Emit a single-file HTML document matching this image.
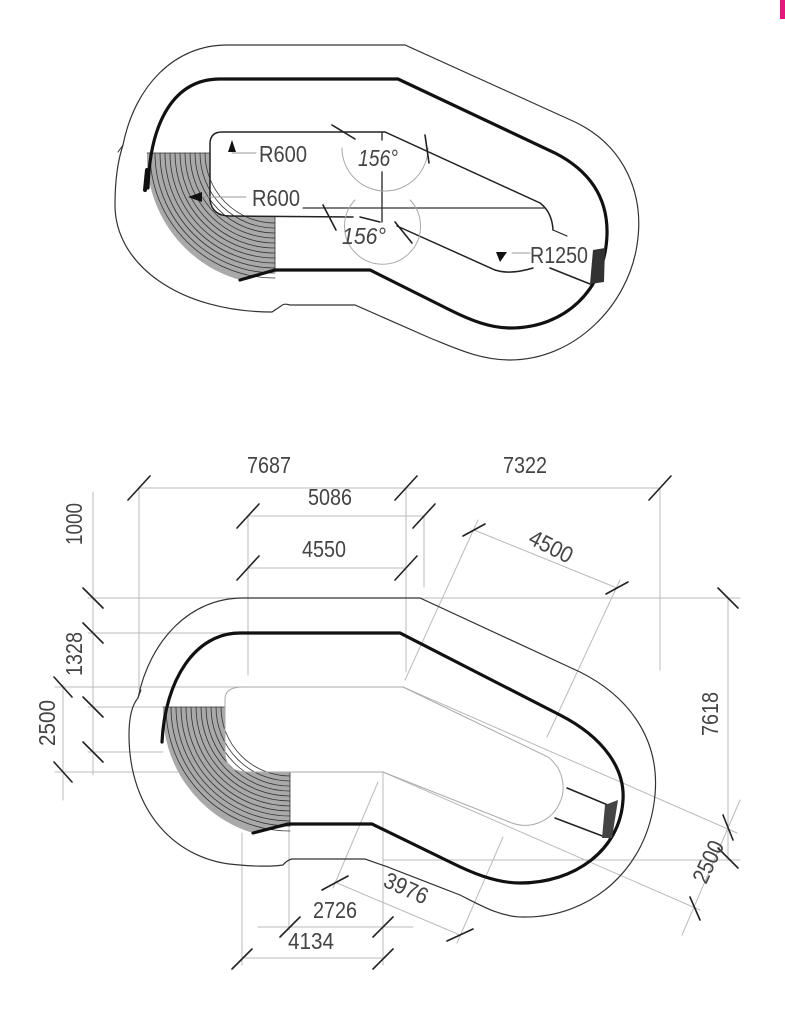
<!DOCTYPE html>
<html><head><meta charset="utf-8"><style>
html,body{margin:0;padding:0;background:#fff;width:785px;height:1023px;overflow:hidden}
svg{display:block}
text{font-family:"Liberation Sans Narrow","Liberation Sans",sans-serif;fill:#444;font-size:23px}
</style></head><body>
<svg width="785" height="1023" viewBox="0 0 785 1023" xmlns="http://www.w3.org/2000/svg">
<rect x="780" y="0" width="5" height="19" fill="#e6177a"/>

<!-- ============ TOP FIGURE ============ -->
<g fill="none" stroke-linecap="round">
<g stroke="#333" stroke-width="0.8">
<path d="M147,153 L210,153 L210,205 Q212,215 227,216 L275,216 L275,270 L240,280 A128,128 0 0 1 147,153 Z" fill="#a9a9a9" stroke="none"/>
<path d="M150,153 A125,125 0 0 0 275,278"/>
<path d="M155,153 A120,120 0 0 0 275,273"/>
<path d="M160,153 A115,115 0 0 0 275,268"/>
<path d="M165,153 A110,110 0 0 0 275,263"/>
<path d="M170,153 A105,105 0 0 0 275,258"/>
<path d="M175,153 A100,100 0 0 0 275,253"/>
<path d="M180,153 A95,95 0 0 0 275,248"/>
<path d="M185,153 A90,90 0 0 0 275,243"/>
<path d="M190,153 A85,85 0 0 0 275,238"/>
<path d="M195,153 A80,80 0 0 0 275,233"/>
<path d="M200,153 A75,75 0 0 0 275,228"/>
<path d="M205,153 A70,70 0 0 0 275,223"/>
<path d="M147,153 L210,153"/>
<path d="M275,216 L275,272"/>
</g>
<path d="M227,45 L405,45 L575,122 C625,146 645,195 637,245 C628,305 575,360 510,360 C480,360 455,348 430,338 L355,305 L290,305 Q284,303 281,306 L272,312 C180,312 115,265 115,205 C115,180 118,160 123,145 C135,85 175,45 227,45 Z" stroke="#333" stroke-width="1.2"/>
<path d="M123,145 L118,152" stroke="#333" stroke-width="1"/>
<path d="M148,188 C150,120 175,79 220,79 L398,79 L555,153 C592,172 608,200 607,235 C605,290 565,328 510,328 C490,328 470,320 450,310 L370,270 L275,270 L240,280" stroke="#111" stroke-width="3.2"/>
<path d="M147,170 L145,190" stroke="#111" stroke-width="4"/>
<path d="M210,200 L210,144 Q210,132 222,132 L385,132 L540,203 Q552,212 553,230" stroke="#222" stroke-width="1.5"/>
<path d="M210,200 Q212,216 230,216 L353,217" stroke="#222" stroke-width="1.5"/>
<path d="M360,217 L380,222" stroke="#222" stroke-width="1.5"/>
<path d="M397,226 L495,270 Q510,275 533,268" stroke="#222" stroke-width="1.5"/>
<path d="M553,230 L567,236" stroke="#222" stroke-width="1.2"/>
<path d="M550,268 L590,284" stroke="#222" stroke-width="1.5"/>
<path d="M593,250 L605,248 L604,282 L590,284 Z" fill="#333" stroke="none"/>
<path d="M303,208 L545,208" stroke="#333" stroke-width="1.2"/>
<path d="M382,132 L382,140 M382,172 L382,222" stroke="#333" stroke-width="1.4"/>
<path d="M342,148 A43,43 0 0 0 428,148" stroke="#aaa" stroke-width="1"/>
<path d="M355,200 A38,38 0 1 0 410,200" stroke="#aaa" stroke-width="1"/>
<g stroke="#222" stroke-width="1.6">
<path d="M332,125 L355,139"/><path d="M425,135 L429,163"/>
<path d="M323,205 L336,230"/><path d="M395,222 L412,243"/>
</g>
<path d="M232,153 L256,153" stroke="#999"/>
<path d="M202,197 L246,197" stroke="#999"/>
<path d="M512,253 L530,253" stroke="#999"/>
</g>
<path d="M232,140 L228,152 L236,152 Z" fill="#111"/>
<path d="M188,197 L202,192 L202,202 Z" fill="#111"/>
<path d="M500,262 L496,252 L507,252 Z" fill="#111"/>
<text x="259" y="162" textLength="48" lengthAdjust="spacingAndGlyphs">R600</text>
<text x="252" y="206" textLength="48" lengthAdjust="spacingAndGlyphs">R600</text>
<text x="358" y="166" font-style="italic" textLength="40" lengthAdjust="spacingAndGlyphs">156°</text>
<text x="342" y="244" font-style="italic" textLength="44" lengthAdjust="spacingAndGlyphs">156°</text>
<text x="530" y="263" textLength="58" lengthAdjust="spacingAndGlyphs">R1250</text>

<!-- ============ BOTTOM FIGURE ============ -->
<g fill="none" stroke-linecap="round">
<g stroke="#bbb" stroke-width="1">
<path d="M139,488 L660,488"/>
<path d="M248,516 L424,516"/>
<path d="M248,568 L406,568"/>
<path d="M139,488 L139,690"/>
<path d="M248,516 L248,675"/>
<path d="M406,488 L406,672"/>
<path d="M424,516 L424,587"/>
<path d="M660,488 L660,670"/>
<path d="M93,492 L93,775"/>
<path d="M63,685 L63,800"/>
<path d="M88,598 L740,598"/>
<path d="M88,633 L243,633"/>
<path d="M55,687 L243,687"/>
<path d="M88,707 L163,707"/>
<path d="M88,752 L163,752"/>
<path d="M55,772 L243,772"/>
<path d="M728,598 L728,860"/>
<path d="M383,860 L740,860"/>
<path d="M474,530 L617,588"/>
<path d="M478,520 L405,680"/>
<path d="M620,580 L547,737"/>
<path d="M403,687 L737,833"/>
<path d="M383,772 L700,910"/>
<path d="M740,800 L682,935"/>
<path d="M337,883 L460,935"/>
<path d="M333,888 L378,782"/>
<path d="M457,943 L503,837"/>
<path d="M258,927 L413,927"/>
<path d="M245,958 L385,958"/>
<path d="M242,833 L242,965"/>
<path d="M383,772 L383,965"/>
<path d="M289,826 L289,930"/>
</g>
<g stroke="#222" stroke-width="1.6">
<path d="M128,500 L150,476"/><path d="M395,500 L417,476"/><path d="M649,500 L671,476"/>
<path d="M237,528 L259,504"/><path d="M413,528 L435,504"/>
<path d="M237,580 L259,556"/><path d="M395,580 L417,556"/>
<path d="M463,536 L485,524"/><path d="M606,594 L628,582"/>
<path d="M83,588 L103,608"/><path d="M83,623 L103,643"/>
<path d="M54,677 L72,697"/><path d="M83,697 L103,717"/>
<path d="M83,742 L103,762"/><path d="M54,762 L72,782"/>
<path d="M718,588 L738,608"/>
<path d="M723,815 L733,840"/><path d="M718,848 L738,868"/>
<path d="M690,897 L700,920"/>
<path d="M322,890 L348,876"/><path d="M447,941 L473,929"/>
<path d="M280,937 L300,917"/><path d="M373,937 L393,917"/>
<path d="M232,969 L252,949"/><path d="M373,969 L393,949"/>
</g>
<g stroke="#333" stroke-width="0.8">
<path d="M163,707 L225,707 L225,755 Q228,772 247,772 L290,772 L290,826 L253,833 A127,127 0 0 1 163,707 Z" fill="#a9a9a9" stroke="none"/>
<path d="M166,707 A124,124 0 0 0 290,831"/>
<path d="M171,707 A119,119 0 0 0 290,826"/>
<path d="M176,707 A114,114 0 0 0 290,821"/>
<path d="M181,707 A109,109 0 0 0 290,816"/>
<path d="M186,707 A104,104 0 0 0 290,811"/>
<path d="M191,707 A99,99 0 0 0 290,806"/>
<path d="M196,707 A94,94 0 0 0 290,801"/>
<path d="M201,707 A89,89 0 0 0 290,796"/>
<path d="M206,707 A84,84 0 0 0 290,791"/>
<path d="M211,707 A79,79 0 0 0 290,786"/>
<path d="M216,707 A74,74 0 0 0 290,781"/>
<path d="M221,707 A69,69 0 0 0 290,776"/>
<path d="M163,707 L225,707"/>
<path d="M290,772 L290,826"/>
</g>
<path d="M243,598 L420,598 L580,672 C630,697 660,740 655,795 C648,870 590,918 523,917 C500,917 480,905 460,895 L385,866 L365,859 L292,859 Q287,860 283,865 C270,867 250,866 240,865 C175,862 129,810 129,735 C129,718 132,705 138,698 C150,640 190,598 243,598 Z" stroke="#333" stroke-width="1.2"/>
<path d="M138,698 L141,690" stroke="#333"/>
<path d="M162,742 C165,680 195,633 240,633 L400,633 L560,715 C605,738 625,770 623,800 C620,850 575,883 520,883 C495,883 470,872 450,862 L372,824 L288,824 L253,833" stroke="#111" stroke-width="3.2"/>
<path d="M225,752 L225,699 Q225,687 243,687 L403,687 L548,757 A38,38 0 0 1 512,823 L383,772 L247,772 Q225,772 225,752" stroke="#aaa" stroke-width="1"/>
<path d="M567,788 L615,808 M555,818 L605,837" stroke="#222" stroke-width="1.5"/>
<path d="M605,805 L618,800 L612,838 L602,838 Z" fill="#444" stroke="none"/>
</g>
<text x="247" y="473" textLength="44" lengthAdjust="spacingAndGlyphs">7687</text>
<text x="503" y="473" textLength="44" lengthAdjust="spacingAndGlyphs">7322</text>
<text x="308" y="505" textLength="44" lengthAdjust="spacingAndGlyphs">5086</text>
<text x="302" y="557" textLength="44" lengthAdjust="spacingAndGlyphs">4550</text>
<text transform="translate(527,543) rotate(27)" textLength="46" lengthAdjust="spacingAndGlyphs">4500</text>
<text transform="translate(82,545) rotate(-90)" textLength="42" lengthAdjust="spacingAndGlyphs">1000</text>
<text transform="translate(82,676) rotate(-90)" textLength="44" lengthAdjust="spacingAndGlyphs">1328</text>
<text transform="translate(55,746) rotate(-90)" textLength="46" lengthAdjust="spacingAndGlyphs">2500</text>
<text transform="translate(718,736) rotate(-90)" textLength="44" lengthAdjust="spacingAndGlyphs">7618</text>
<text transform="translate(706,885) rotate(-65)" textLength="44" lengthAdjust="spacingAndGlyphs">2500</text>
<text transform="translate(382,886) rotate(24)" textLength="46" lengthAdjust="spacingAndGlyphs">3976</text>
<text x="313" y="918" textLength="44" lengthAdjust="spacingAndGlyphs">2726</text>
<text x="288" y="949" textLength="46" lengthAdjust="spacingAndGlyphs">4134</text>
</svg>
</body></html>
